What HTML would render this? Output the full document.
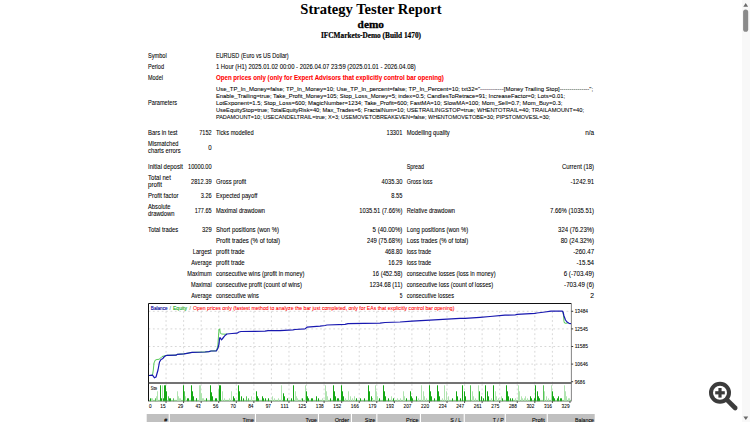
<!DOCTYPE html>
<html><head><meta charset="utf-8"><style>
html,body{margin:0;padding:0;background:#fff;overflow:hidden;width:750px;height:422px}
svg{display:block;position:absolute;left:0;top:0}
text{white-space:pre}
</style></head><body>
<svg width="750" height="422" viewBox="0 0 750 422">
<line x1="148.5" y1="311.3" x2="571.4" y2="311.3" stroke="#cdcdcd" stroke-width="0.8" stroke-dasharray="1.8 2.6"/>
<line x1="148.5" y1="328.9" x2="571.4" y2="328.9" stroke="#cdcdcd" stroke-width="0.8" stroke-dasharray="1.8 2.6"/>
<line x1="148.5" y1="346.5" x2="571.4" y2="346.5" stroke="#cdcdcd" stroke-width="0.8" stroke-dasharray="1.8 2.6"/>
<line x1="148.5" y1="364.1" x2="571.4" y2="364.1" stroke="#cdcdcd" stroke-width="0.8" stroke-dasharray="1.8 2.6"/>
<line x1="166.06" y1="311.3" x2="166.06" y2="383.1" stroke="#cdcdcd" stroke-width="0.8" stroke-dasharray="1.8 2.6"/>
<line x1="166.06" y1="384.1" x2="166.06" y2="401.3" stroke="#cdcdcd" stroke-width="0.8" stroke-dasharray="1.8 2.6"/>
<line x1="183.62" y1="311.3" x2="183.62" y2="383.1" stroke="#cdcdcd" stroke-width="0.8" stroke-dasharray="1.8 2.6"/>
<line x1="183.62" y1="384.1" x2="183.62" y2="401.3" stroke="#cdcdcd" stroke-width="0.8" stroke-dasharray="1.8 2.6"/>
<line x1="201.18" y1="311.3" x2="201.18" y2="383.1" stroke="#cdcdcd" stroke-width="0.8" stroke-dasharray="1.8 2.6"/>
<line x1="201.18" y1="384.1" x2="201.18" y2="401.3" stroke="#cdcdcd" stroke-width="0.8" stroke-dasharray="1.8 2.6"/>
<line x1="218.74" y1="311.3" x2="218.74" y2="383.1" stroke="#cdcdcd" stroke-width="0.8" stroke-dasharray="1.8 2.6"/>
<line x1="218.74" y1="384.1" x2="218.74" y2="401.3" stroke="#cdcdcd" stroke-width="0.8" stroke-dasharray="1.8 2.6"/>
<line x1="236.30" y1="311.3" x2="236.30" y2="383.1" stroke="#cdcdcd" stroke-width="0.8" stroke-dasharray="1.8 2.6"/>
<line x1="236.30" y1="384.1" x2="236.30" y2="401.3" stroke="#cdcdcd" stroke-width="0.8" stroke-dasharray="1.8 2.6"/>
<line x1="253.86" y1="311.3" x2="253.86" y2="383.1" stroke="#cdcdcd" stroke-width="0.8" stroke-dasharray="1.8 2.6"/>
<line x1="253.86" y1="384.1" x2="253.86" y2="401.3" stroke="#cdcdcd" stroke-width="0.8" stroke-dasharray="1.8 2.6"/>
<line x1="271.42" y1="311.3" x2="271.42" y2="383.1" stroke="#cdcdcd" stroke-width="0.8" stroke-dasharray="1.8 2.6"/>
<line x1="271.42" y1="384.1" x2="271.42" y2="401.3" stroke="#cdcdcd" stroke-width="0.8" stroke-dasharray="1.8 2.6"/>
<line x1="288.98" y1="311.3" x2="288.98" y2="383.1" stroke="#cdcdcd" stroke-width="0.8" stroke-dasharray="1.8 2.6"/>
<line x1="288.98" y1="384.1" x2="288.98" y2="401.3" stroke="#cdcdcd" stroke-width="0.8" stroke-dasharray="1.8 2.6"/>
<line x1="306.54" y1="311.3" x2="306.54" y2="383.1" stroke="#cdcdcd" stroke-width="0.8" stroke-dasharray="1.8 2.6"/>
<line x1="306.54" y1="384.1" x2="306.54" y2="401.3" stroke="#cdcdcd" stroke-width="0.8" stroke-dasharray="1.8 2.6"/>
<line x1="324.10" y1="311.3" x2="324.10" y2="383.1" stroke="#cdcdcd" stroke-width="0.8" stroke-dasharray="1.8 2.6"/>
<line x1="324.10" y1="384.1" x2="324.10" y2="401.3" stroke="#cdcdcd" stroke-width="0.8" stroke-dasharray="1.8 2.6"/>
<line x1="341.66" y1="311.3" x2="341.66" y2="383.1" stroke="#cdcdcd" stroke-width="0.8" stroke-dasharray="1.8 2.6"/>
<line x1="341.66" y1="384.1" x2="341.66" y2="401.3" stroke="#cdcdcd" stroke-width="0.8" stroke-dasharray="1.8 2.6"/>
<line x1="359.22" y1="311.3" x2="359.22" y2="383.1" stroke="#cdcdcd" stroke-width="0.8" stroke-dasharray="1.8 2.6"/>
<line x1="359.22" y1="384.1" x2="359.22" y2="401.3" stroke="#cdcdcd" stroke-width="0.8" stroke-dasharray="1.8 2.6"/>
<line x1="376.78" y1="311.3" x2="376.78" y2="383.1" stroke="#cdcdcd" stroke-width="0.8" stroke-dasharray="1.8 2.6"/>
<line x1="376.78" y1="384.1" x2="376.78" y2="401.3" stroke="#cdcdcd" stroke-width="0.8" stroke-dasharray="1.8 2.6"/>
<line x1="394.34" y1="311.3" x2="394.34" y2="383.1" stroke="#cdcdcd" stroke-width="0.8" stroke-dasharray="1.8 2.6"/>
<line x1="394.34" y1="384.1" x2="394.34" y2="401.3" stroke="#cdcdcd" stroke-width="0.8" stroke-dasharray="1.8 2.6"/>
<line x1="411.90" y1="311.3" x2="411.90" y2="383.1" stroke="#cdcdcd" stroke-width="0.8" stroke-dasharray="1.8 2.6"/>
<line x1="411.90" y1="384.1" x2="411.90" y2="401.3" stroke="#cdcdcd" stroke-width="0.8" stroke-dasharray="1.8 2.6"/>
<line x1="429.46" y1="311.3" x2="429.46" y2="383.1" stroke="#cdcdcd" stroke-width="0.8" stroke-dasharray="1.8 2.6"/>
<line x1="429.46" y1="384.1" x2="429.46" y2="401.3" stroke="#cdcdcd" stroke-width="0.8" stroke-dasharray="1.8 2.6"/>
<line x1="447.02" y1="311.3" x2="447.02" y2="383.1" stroke="#cdcdcd" stroke-width="0.8" stroke-dasharray="1.8 2.6"/>
<line x1="447.02" y1="384.1" x2="447.02" y2="401.3" stroke="#cdcdcd" stroke-width="0.8" stroke-dasharray="1.8 2.6"/>
<line x1="464.58" y1="311.3" x2="464.58" y2="383.1" stroke="#cdcdcd" stroke-width="0.8" stroke-dasharray="1.8 2.6"/>
<line x1="464.58" y1="384.1" x2="464.58" y2="401.3" stroke="#cdcdcd" stroke-width="0.8" stroke-dasharray="1.8 2.6"/>
<line x1="482.14" y1="311.3" x2="482.14" y2="383.1" stroke="#cdcdcd" stroke-width="0.8" stroke-dasharray="1.8 2.6"/>
<line x1="482.14" y1="384.1" x2="482.14" y2="401.3" stroke="#cdcdcd" stroke-width="0.8" stroke-dasharray="1.8 2.6"/>
<line x1="499.70" y1="311.3" x2="499.70" y2="383.1" stroke="#cdcdcd" stroke-width="0.8" stroke-dasharray="1.8 2.6"/>
<line x1="499.70" y1="384.1" x2="499.70" y2="401.3" stroke="#cdcdcd" stroke-width="0.8" stroke-dasharray="1.8 2.6"/>
<line x1="517.26" y1="311.3" x2="517.26" y2="383.1" stroke="#cdcdcd" stroke-width="0.8" stroke-dasharray="1.8 2.6"/>
<line x1="517.26" y1="384.1" x2="517.26" y2="401.3" stroke="#cdcdcd" stroke-width="0.8" stroke-dasharray="1.8 2.6"/>
<line x1="534.82" y1="311.3" x2="534.82" y2="383.1" stroke="#cdcdcd" stroke-width="0.8" stroke-dasharray="1.8 2.6"/>
<line x1="534.82" y1="384.1" x2="534.82" y2="401.3" stroke="#cdcdcd" stroke-width="0.8" stroke-dasharray="1.8 2.6"/>
<line x1="552.38" y1="311.3" x2="552.38" y2="383.1" stroke="#cdcdcd" stroke-width="0.8" stroke-dasharray="1.8 2.6"/>
<line x1="552.38" y1="384.1" x2="552.38" y2="401.3" stroke="#cdcdcd" stroke-width="0.8" stroke-dasharray="1.8 2.6"/>
<rect x="149" y="399.90" width="422" height="1.4" fill="#8fd68f"/>
<rect x="150" y="398.30" width="1" height="3.0" fill="#13a813"/>
<rect x="151" y="398.30" width="1" height="3.0" fill="#b0e4b0"/>
<rect x="152" y="398.30" width="1" height="3.0" fill="#b0e4b0"/>
<rect x="155" y="398.30" width="1" height="3.0" fill="#55c455"/>
<rect x="156" y="396.30" width="1" height="5.0" fill="#b0e4b0"/>
<rect x="157" y="391.30" width="1" height="10.0" fill="#b0e4b0"/>
<rect x="160" y="385.30" width="1" height="16.0" fill="#13a813"/>
<rect x="161" y="398.30" width="1" height="3.0" fill="#13a813"/>
<rect x="162" y="385.30" width="1" height="16.0" fill="#b0e4b0"/>
<rect x="163" y="398.30" width="1" height="3.0" fill="#13a813"/>
<rect x="164" y="385.30" width="1" height="16.0" fill="#13a813"/>
<rect x="165" y="385.30" width="1" height="16.0" fill="#13a813"/>
<rect x="166" y="391.30" width="1" height="10.0" fill="#13a813"/>
<rect x="168" y="396.30" width="1" height="5.0" fill="#55c455"/>
<rect x="169" y="398.30" width="1" height="3.0" fill="#13a813"/>
<rect x="170" y="398.30" width="1" height="3.0" fill="#13a813"/>
<rect x="173" y="398.30" width="1" height="3.0" fill="#55c455"/>
<rect x="177" y="391.30" width="1" height="10.0" fill="#b0e4b0"/>
<rect x="178" y="396.30" width="1" height="5.0" fill="#b0e4b0"/>
<rect x="179" y="398.30" width="1" height="3.0" fill="#b0e4b0"/>
<rect x="180" y="398.30" width="1" height="3.0" fill="#b0e4b0"/>
<rect x="183" y="385.30" width="1" height="16.0" fill="#13a813"/>
<rect x="184" y="391.30" width="1" height="10.0" fill="#55c455"/>
<rect x="185" y="396.30" width="1" height="5.0" fill="#b0e4b0"/>
<rect x="187" y="398.30" width="1" height="3.0" fill="#13a813"/>
<rect x="188" y="398.30" width="1" height="3.0" fill="#13a813"/>
<rect x="191" y="385.30" width="1" height="16.0" fill="#13a813"/>
<rect x="192" y="391.30" width="1" height="10.0" fill="#13a813"/>
<rect x="193" y="396.30" width="1" height="5.0" fill="#13a813"/>
<rect x="196" y="398.30" width="1" height="3.0" fill="#55c455"/>
<rect x="196" y="398.30" width="1" height="3.0" fill="#13a813"/>
<rect x="199" y="385.30" width="1" height="16.0" fill="#b0e4b0"/>
<rect x="200" y="385.30" width="1" height="16.0" fill="#b0e4b0"/>
<rect x="201" y="393.30" width="1" height="8.0" fill="#b0e4b0"/>
<rect x="202" y="398.30" width="1" height="3.0" fill="#b0e4b0"/>
<rect x="203" y="398.30" width="1" height="3.0" fill="#b0e4b0"/>
<rect x="206" y="398.30" width="1" height="3.0" fill="#13a813"/>
<rect x="210" y="385.30" width="1" height="16.0" fill="#13a813"/>
<rect x="211" y="392.30" width="1" height="9.0" fill="#13a813"/>
<rect x="212" y="396.30" width="1" height="5.0" fill="#13a813"/>
<rect x="215" y="398.30" width="1" height="3.0" fill="#13a813"/>
<rect x="216" y="398.30" width="1" height="3.0" fill="#13a813"/>
<rect x="218" y="389.30" width="1" height="12.0" fill="#b0e4b0"/>
<rect x="219" y="385.30" width="1" height="16.0" fill="#13a813"/>
<rect x="220" y="385.30" width="1" height="16.0" fill="#13a813"/>
<rect x="222" y="391.30" width="1" height="10.0" fill="#b0e4b0"/>
<rect x="224" y="398.30" width="1" height="3.0" fill="#b0e4b0"/>
<rect x="229" y="398.30" width="1" height="3.0" fill="#b0e4b0"/>
<rect x="231" y="391.30" width="1" height="10.0" fill="#b0e4b0"/>
<rect x="233" y="396.30" width="1" height="5.0" fill="#13a813"/>
<rect x="234" y="398.30" width="1" height="3.0" fill="#13a813"/>
<rect x="238" y="385.30" width="1" height="16.0" fill="#13a813"/>
<rect x="239" y="391.30" width="1" height="10.0" fill="#13a813"/>
<rect x="241" y="396.30" width="1" height="5.0" fill="#13a813"/>
<rect x="243" y="398.30" width="1" height="3.0" fill="#13a813"/>
<rect x="246" y="396.30" width="1" height="5.0" fill="#55c455"/>
<rect x="248" y="398.30" width="1" height="3.0" fill="#55c455"/>
<rect x="251" y="396.30" width="1" height="5.0" fill="#b0e4b0"/>
<rect x="256" y="391.30" width="1" height="10.0" fill="#13a813"/>
<rect x="257" y="396.30" width="1" height="5.0" fill="#13a813"/>
<rect x="258" y="398.30" width="1" height="3.0" fill="#13a813"/>
<rect x="262" y="396.30" width="1" height="5.0" fill="#13a813"/>
<rect x="263" y="398.30" width="1" height="3.0" fill="#13a813"/>
<rect x="265" y="398.30" width="1" height="3.0" fill="#13a813"/>
<rect x="268" y="398.30" width="1" height="3.0" fill="#13a813"/>
<rect x="272" y="396.30" width="1" height="5.0" fill="#b0e4b0"/>
<rect x="274" y="398.30" width="1" height="3.0" fill="#b0e4b0"/>
<rect x="278" y="398.30" width="1" height="3.0" fill="#b0e4b0"/>
<rect x="281" y="385.30" width="1" height="16.0" fill="#b0e4b0"/>
<rect x="283" y="393.30" width="1" height="8.0" fill="#13a813"/>
<rect x="284" y="396.30" width="1" height="5.0" fill="#13a813"/>
<rect x="287" y="398.30" width="1" height="3.0" fill="#13a813"/>
<rect x="291" y="398.30" width="1" height="3.0" fill="#13a813"/>
<rect x="293" y="385.30" width="1" height="16.0" fill="#13a813"/>
<rect x="295" y="391.30" width="1" height="10.0" fill="#b0e4b0"/>
<rect x="296" y="396.30" width="1" height="5.0" fill="#b0e4b0"/>
<rect x="297" y="398.30" width="1" height="3.0" fill="#b0e4b0"/>
<rect x="301" y="398.30" width="1" height="3.0" fill="#b0e4b0"/>
<rect x="302" y="398.30" width="1" height="3.0" fill="#13a813"/>
<rect x="305" y="385.30" width="1" height="16.0" fill="#b0e4b0"/>
<rect x="306" y="391.30" width="1" height="10.0" fill="#13a813"/>
<rect x="307" y="396.30" width="1" height="5.0" fill="#13a813"/>
<rect x="308" y="398.30" width="1" height="3.0" fill="#13a813"/>
<rect x="311" y="398.30" width="1" height="3.0" fill="#13a813"/>
<rect x="312" y="398.30" width="1" height="3.0" fill="#13a813"/>
<rect x="316" y="396.30" width="1" height="5.0" fill="#13a813"/>
<rect x="318" y="398.30" width="1" height="3.0" fill="#13a813"/>
<rect x="322" y="398.30" width="1" height="3.0" fill="#b0e4b0"/>
<rect x="325" y="385.30" width="1" height="16.0" fill="#b0e4b0"/>
<rect x="326" y="391.30" width="1" height="10.0" fill="#b0e4b0"/>
<rect x="327" y="396.30" width="1" height="5.0" fill="#b0e4b0"/>
<rect x="330" y="398.30" width="1" height="3.0" fill="#13a813"/>
<rect x="333" y="385.30" width="1" height="16.0" fill="#13a813"/>
<rect x="334" y="391.30" width="1" height="10.0" fill="#13a813"/>
<rect x="335" y="396.30" width="1" height="5.0" fill="#13a813"/>
<rect x="337" y="398.30" width="1" height="3.0" fill="#13a813"/>
<rect x="338" y="398.30" width="1" height="3.0" fill="#13a813"/>
<rect x="341" y="385.30" width="1" height="16.0" fill="#13a813"/>
<rect x="342" y="391.30" width="1" height="10.0" fill="#13a813"/>
<rect x="343" y="396.30" width="1" height="5.0" fill="#13a813"/>
<rect x="345" y="398.30" width="1" height="3.0" fill="#b0e4b0"/>
<rect x="348" y="391.30" width="1" height="10.0" fill="#b0e4b0"/>
<rect x="350" y="396.30" width="1" height="5.0" fill="#b0e4b0"/>
<rect x="352" y="398.30" width="1" height="3.0" fill="#b0e4b0"/>
<rect x="354" y="396.30" width="1" height="5.0" fill="#b0e4b0"/>
<rect x="356" y="398.30" width="1" height="3.0" fill="#13a813"/>
<rect x="360" y="398.30" width="1" height="3.0" fill="#13a813"/>
<rect x="364" y="398.30" width="1" height="3.0" fill="#13a813"/>
<rect x="368" y="385.30" width="1" height="16.0" fill="#13a813"/>
<rect x="369" y="391.30" width="1" height="10.0" fill="#13a813"/>
<rect x="371" y="396.30" width="1" height="5.0" fill="#13a813"/>
<rect x="372" y="398.30" width="1" height="3.0" fill="#13a813"/>
<rect x="372" y="398.30" width="1" height="3.0" fill="#b0e4b0"/>
<rect x="375" y="385.30" width="1" height="16.0" fill="#b0e4b0"/>
<rect x="376" y="391.30" width="1" height="10.0" fill="#b0e4b0"/>
<rect x="377" y="396.30" width="1" height="5.0" fill="#b0e4b0"/>
<rect x="379" y="398.30" width="1" height="3.0" fill="#13a813"/>
<rect x="383" y="385.30" width="1" height="16.0" fill="#13a813"/>
<rect x="384" y="391.30" width="1" height="10.0" fill="#13a813"/>
<rect x="385" y="396.30" width="1" height="5.0" fill="#13a813"/>
<rect x="388" y="398.30" width="1" height="3.0" fill="#13a813"/>
<rect x="391" y="396.30" width="1" height="5.0" fill="#b0e4b0"/>
<rect x="393" y="398.30" width="1" height="3.0" fill="#13a813"/>
<rect x="397" y="398.30" width="1" height="3.0" fill="#b0e4b0"/>
<rect x="400" y="398.30" width="1" height="3.0" fill="#b0e4b0"/>
<rect x="403" y="391.30" width="1" height="10.0" fill="#b0e4b0"/>
<rect x="404" y="396.30" width="1" height="5.0" fill="#b0e4b0"/>
<rect x="406" y="398.30" width="1" height="3.0" fill="#13a813"/>
<rect x="410" y="391.30" width="1" height="10.0" fill="#13a813"/>
<rect x="411" y="396.30" width="1" height="5.0" fill="#13a813"/>
<rect x="412" y="398.30" width="1" height="3.0" fill="#13a813"/>
<rect x="416" y="396.30" width="1" height="5.0" fill="#13a813"/>
<rect x="418" y="398.30" width="1" height="3.0" fill="#b0e4b0"/>
<rect x="421" y="385.30" width="1" height="16.0" fill="#b0e4b0"/>
<rect x="423" y="391.30" width="1" height="10.0" fill="#b0e4b0"/>
<rect x="424" y="396.30" width="1" height="5.0" fill="#b0e4b0"/>
<rect x="426" y="398.30" width="1" height="3.0" fill="#b0e4b0"/>
<rect x="429" y="385.30" width="1" height="16.0" fill="#13a813"/>
<rect x="430" y="391.30" width="1" height="10.0" fill="#13a813"/>
<rect x="431" y="396.30" width="1" height="5.0" fill="#13a813"/>
<rect x="434" y="398.30" width="1" height="3.0" fill="#13a813"/>
<rect x="437" y="385.30" width="1" height="16.0" fill="#13a813"/>
<rect x="438" y="391.30" width="1" height="10.0" fill="#13a813"/>
<rect x="439" y="396.30" width="1" height="5.0" fill="#13a813"/>
<rect x="442" y="398.30" width="1" height="3.0" fill="#b0e4b0"/>
<rect x="444" y="385.30" width="1" height="16.0" fill="#b0e4b0"/>
<rect x="446" y="391.30" width="1" height="10.0" fill="#b0e4b0"/>
<rect x="448" y="396.30" width="1" height="5.0" fill="#b0e4b0"/>
<rect x="452" y="398.30" width="1" height="3.0" fill="#13a813"/>
<rect x="456" y="391.30" width="1" height="10.0" fill="#13a813"/>
<rect x="457" y="396.30" width="1" height="5.0" fill="#13a813"/>
<rect x="460" y="398.30" width="1" height="3.0" fill="#13a813"/>
<rect x="462" y="385.30" width="1" height="16.0" fill="#13a813"/>
<rect x="464" y="391.30" width="1" height="10.0" fill="#13a813"/>
<rect x="465" y="396.30" width="1" height="5.0" fill="#13a813"/>
<rect x="470" y="385.30" width="1" height="16.0" fill="#55c455"/>
<rect x="472" y="391.30" width="1" height="10.0" fill="#b0e4b0"/>
<rect x="473" y="396.30" width="1" height="5.0" fill="#b0e4b0"/>
<rect x="475" y="398.30" width="1" height="3.0" fill="#b0e4b0"/>
<rect x="478" y="385.30" width="1" height="16.0" fill="#b0e4b0"/>
<rect x="479" y="391.30" width="1" height="10.0" fill="#13a813"/>
<rect x="481" y="396.30" width="1" height="5.0" fill="#13a813"/>
<rect x="483" y="398.30" width="1" height="3.0" fill="#13a813"/>
<rect x="485" y="385.30" width="1" height="16.0" fill="#13a813"/>
<rect x="487" y="391.30" width="1" height="10.0" fill="#13a813"/>
<rect x="488" y="396.30" width="1" height="5.0" fill="#13a813"/>
<rect x="491" y="398.30" width="1" height="3.0" fill="#b0e4b0"/>
<rect x="493" y="385.30" width="1" height="16.0" fill="#13a813"/>
<rect x="495" y="391.30" width="1" height="10.0" fill="#b0e4b0"/>
<rect x="496" y="396.30" width="1" height="5.0" fill="#b0e4b0"/>
<rect x="498" y="398.30" width="1" height="3.0" fill="#b0e4b0"/>
<rect x="501" y="396.30" width="1" height="5.0" fill="#b0e4b0"/>
<rect x="502" y="398.30" width="1" height="3.0" fill="#13a813"/>
<rect x="506" y="385.30" width="1" height="16.0" fill="#13a813"/>
<rect x="507" y="391.30" width="1" height="10.0" fill="#13a813"/>
<rect x="508" y="396.30" width="1" height="5.0" fill="#13a813"/>
<rect x="510" y="398.30" width="1" height="3.0" fill="#13a813"/>
<rect x="512" y="398.30" width="1" height="3.0" fill="#13a813"/>
<rect x="515" y="398.30" width="1" height="3.0" fill="#b0e4b0"/>
<rect x="518" y="385.30" width="1" height="16.0" fill="#b0e4b0"/>
<rect x="519" y="391.30" width="1" height="10.0" fill="#b0e4b0"/>
<rect x="521" y="396.30" width="1" height="5.0" fill="#b0e4b0"/>
<rect x="522" y="398.30" width="1" height="3.0" fill="#b0e4b0"/>
<rect x="524" y="398.30" width="1" height="3.0" fill="#b0e4b0"/>
<rect x="525" y="396.30" width="1" height="5.0" fill="#b0e4b0"/>
<rect x="527" y="398.30" width="1" height="3.0" fill="#b0e4b0"/>
<rect x="530" y="396.30" width="1" height="5.0" fill="#13a813"/>
<rect x="531" y="398.30" width="1" height="3.0" fill="#13a813"/>
<rect x="534" y="398.30" width="1" height="3.0" fill="#13a813"/>
<rect x="535" y="385.30" width="1" height="16.0" fill="#13a813"/>
<rect x="537" y="391.30" width="1" height="10.0" fill="#13a813"/>
<rect x="538" y="396.30" width="1" height="5.0" fill="#13a813"/>
<rect x="539" y="398.30" width="1" height="3.0" fill="#13a813"/>
<rect x="543" y="385.30" width="1" height="16.0" fill="#55c455"/>
<rect x="544" y="391.30" width="1" height="10.0" fill="#b0e4b0"/>
<rect x="546" y="396.30" width="1" height="5.0" fill="#b0e4b0"/>
<rect x="548" y="398.30" width="1" height="3.0" fill="#b0e4b0"/>
<rect x="551" y="385.30" width="1" height="16.0" fill="#b0e4b0"/>
<rect x="552" y="391.30" width="1" height="10.0" fill="#13a813"/>
<rect x="553" y="396.30" width="1" height="5.0" fill="#13a813"/>
<rect x="554" y="398.30" width="1" height="3.0" fill="#13a813"/>
<rect x="557" y="398.30" width="1" height="3.0" fill="#13a813"/>
<rect x="558" y="396.30" width="1" height="5.0" fill="#13a813"/>
<rect x="560" y="398.30" width="1" height="3.0" fill="#13a813"/>
<rect x="561" y="398.30" width="1" height="3.0" fill="#13a813"/>
<rect x="564" y="385.30" width="1" height="16.0" fill="#b0e4b0"/>
<rect x="565" y="391.30" width="1" height="10.0" fill="#b0e4b0"/>
<rect x="566" y="396.30" width="1" height="5.0" fill="#b0e4b0"/>
<rect x="568" y="398.30" width="1" height="3.0" fill="#b0e4b0"/>
<rect x="569" y="398.30" width="1" height="3.0" fill="#b0e4b0"/>
<line x1="148.5" y1="303.5" x2="571.4" y2="303.5" stroke="#111" stroke-width="1.0"/>
<line x1="148.5" y1="303.5" x2="148.5" y2="401.3" stroke="#111" stroke-width="1.0"/>
<line x1="571.4" y1="303.5" x2="571.4" y2="401.3" stroke="#777" stroke-width="0.9"/>
<line x1="148.5" y1="383.1" x2="571.4" y2="383.1" stroke="#444" stroke-width="1.5"/>
<line x1="148.5" y1="401.3" x2="571.4" y2="401.3" stroke="#999" stroke-width="0.8"/>
<line x1="571.4" y1="311.3" x2="573.1999999999999" y2="311.3" stroke="#222" stroke-width="0.9"/>
<line x1="571.4" y1="328.9" x2="573.1999999999999" y2="328.9" stroke="#222" stroke-width="0.9"/>
<line x1="571.4" y1="346.5" x2="573.1999999999999" y2="346.5" stroke="#222" stroke-width="0.9"/>
<line x1="571.4" y1="364.1" x2="573.1999999999999" y2="364.1" stroke="#222" stroke-width="0.9"/>
<line x1="571.4" y1="381.7" x2="573.1999999999999" y2="381.7" stroke="#222" stroke-width="0.9"/>
<line x1="166.06" y1="401.3" x2="166.06" y2="402.90000000000003" stroke="#222" stroke-width="0.9"/>
<line x1="183.62" y1="401.3" x2="183.62" y2="402.90000000000003" stroke="#222" stroke-width="0.9"/>
<line x1="201.18" y1="401.3" x2="201.18" y2="402.90000000000003" stroke="#222" stroke-width="0.9"/>
<line x1="218.74" y1="401.3" x2="218.74" y2="402.90000000000003" stroke="#222" stroke-width="0.9"/>
<line x1="236.30" y1="401.3" x2="236.30" y2="402.90000000000003" stroke="#222" stroke-width="0.9"/>
<line x1="253.86" y1="401.3" x2="253.86" y2="402.90000000000003" stroke="#222" stroke-width="0.9"/>
<line x1="271.42" y1="401.3" x2="271.42" y2="402.90000000000003" stroke="#222" stroke-width="0.9"/>
<line x1="288.98" y1="401.3" x2="288.98" y2="402.90000000000003" stroke="#222" stroke-width="0.9"/>
<line x1="306.54" y1="401.3" x2="306.54" y2="402.90000000000003" stroke="#222" stroke-width="0.9"/>
<line x1="324.10" y1="401.3" x2="324.10" y2="402.90000000000003" stroke="#222" stroke-width="0.9"/>
<line x1="341.66" y1="401.3" x2="341.66" y2="402.90000000000003" stroke="#222" stroke-width="0.9"/>
<line x1="359.22" y1="401.3" x2="359.22" y2="402.90000000000003" stroke="#222" stroke-width="0.9"/>
<line x1="376.78" y1="401.3" x2="376.78" y2="402.90000000000003" stroke="#222" stroke-width="0.9"/>
<line x1="394.34" y1="401.3" x2="394.34" y2="402.90000000000003" stroke="#222" stroke-width="0.9"/>
<line x1="411.90" y1="401.3" x2="411.90" y2="402.90000000000003" stroke="#222" stroke-width="0.9"/>
<line x1="429.46" y1="401.3" x2="429.46" y2="402.90000000000003" stroke="#222" stroke-width="0.9"/>
<line x1="447.02" y1="401.3" x2="447.02" y2="402.90000000000003" stroke="#222" stroke-width="0.9"/>
<line x1="464.58" y1="401.3" x2="464.58" y2="402.90000000000003" stroke="#222" stroke-width="0.9"/>
<line x1="482.14" y1="401.3" x2="482.14" y2="402.90000000000003" stroke="#222" stroke-width="0.9"/>
<line x1="499.70" y1="401.3" x2="499.70" y2="402.90000000000003" stroke="#222" stroke-width="0.9"/>
<line x1="517.26" y1="401.3" x2="517.26" y2="402.90000000000003" stroke="#222" stroke-width="0.9"/>
<line x1="534.82" y1="401.3" x2="534.82" y2="402.90000000000003" stroke="#222" stroke-width="0.9"/>
<line x1="552.38" y1="401.3" x2="552.38" y2="402.90000000000003" stroke="#222" stroke-width="0.9"/>
<line x1="569.94" y1="401.3" x2="569.94" y2="402.90000000000003" stroke="#222" stroke-width="0.9"/>
<path d="M149.0,375.5 L152.5,375.2 L153.3,370.0 L154.0,363.0 L155.3,360.0 L157.0,359.5 L159.0,359.3 L160.5,358.2 L162.0,356.5 L164.0,356.0 L165.5,355.8 L167.0,355.3 L176.0,355.2 L177.5,354.3 L184.0,353.9 L187.0,353.3 L192.0,352.4 L205.0,352.0 L209.0,351.6 L211.0,351.0 L216.5,350.8 L217.8,346.0 L218.5,336.0 L219.0,329.5 L219.7,328.8 L220.3,333.0 L221.3,334.0 L225.0,334.2 L227.0,334.0" fill="none" stroke="#22bb22" stroke-width="0.75" stroke-linejoin="round"/>
<path d="M562.0,311.0 L563.0,312.0 L563.6,316.0 L564.0,321.5 L564.5,323.0 L566.0,323.3 L568.0,322.8" fill="none" stroke="#22bb22" stroke-width="0.75" stroke-linejoin="round"/>
<path d="M149.0,375.5 L152.5,375.2 L154.5,377.8 L156.0,377.0 L158.0,370.0 L159.5,362.0 L161.0,359.5 L162.5,358.8 L164.0,357.0 L165.5,355.8 L167.0,355.3 L176.0,355.2 L177.5,354.3 L184.0,353.9 L187.0,353.3 L192.0,352.4 L205.0,352.0 L209.0,351.6 L211.0,351.0 L216.5,350.8 L218.0,348.0 L219.0,344.0 L219.5,339.0 L220.0,337.5 L221.5,339.8 L223.0,338.0 L225.0,335.5 L227.0,334.0 L232.0,333.5 L237.0,333.2 L239.0,332.0 L241.0,331.5 L265.0,331.2 L268.0,330.6 L280.0,330.6 L293.0,329.9 L295.0,329.5 L305.0,328.9 L307.0,327.2 L320.0,326.1 L325.0,325.5 L327.0,325.0 L345.0,324.4 L348.0,323.7 L380.0,323.1 L385.0,322.5 L400.0,322.0 L412.0,321.2 L430.0,320.1 L460.0,318.4 L465.0,318.3 L480.0,317.3 L490.0,316.5 L505.0,315.2 L515.0,315.0 L517.0,314.4 L535.0,313.3 L537.0,313.0 L545.0,312.0 L551.0,311.2 L562.0,311.0 L563.0,312.0 L564.0,316.0 L565.5,320.0 L567.0,322.0 L569.0,323.3 L571.0,323.6" fill="none" stroke="#1818b0" stroke-width="1.2" stroke-linejoin="round"/>
<text x="150.80" y="309.70" font-size="4.9" textLength="16.80" lengthAdjust="spacingAndGlyphs" fill="#000098" font-weight="normal" style="font-family:&quot;Liberation Sans&quot;"  stroke="#000098" stroke-width="0.12">Balance</text>
<text x="169.60" y="309.70" font-size="4.8" textLength="1.40" lengthAdjust="spacingAndGlyphs" fill="#4080a0" font-weight="normal" style="font-family:&quot;Liberation Sans&quot;"  stroke="#4080a0" stroke-width="0.07">/</text>
<text x="173.00" y="309.70" font-size="4.9" textLength="14.00" lengthAdjust="spacingAndGlyphs" fill="#10a810" font-weight="normal" style="font-family:&quot;Liberation Sans&quot;"  stroke="#10a810" stroke-width="0.1">Equity</text>
<text x="189.60" y="309.70" font-size="4.8" textLength="1.40" lengthAdjust="spacingAndGlyphs" fill="#808040" font-weight="normal" style="font-family:&quot;Liberation Sans&quot;"  stroke="#808040" stroke-width="0.07">/</text>
<text x="193.10" y="309.70" font-size="4.9" textLength="261.30" lengthAdjust="spacingAndGlyphs" fill="#ff0000" font-weight="normal" style="font-family:&quot;Liberation Sans&quot;"  stroke="#ff0000" stroke-width="0.07">Open prices only (fastest method to analyze the bar just completed, only for EAs that explicitly control bar opening)</text>
<text x="574.70" y="313.20" font-size="5.2" textLength="13.30" lengthAdjust="spacingAndGlyphs" fill="#000" font-weight="normal" style="font-family:&quot;Liberation Sans&quot;"  stroke="#000" stroke-width="0.07">13484</text>
<text x="574.70" y="330.80" font-size="5.2" textLength="13.30" lengthAdjust="spacingAndGlyphs" fill="#000" font-weight="normal" style="font-family:&quot;Liberation Sans&quot;"  stroke="#000" stroke-width="0.07">12545</text>
<text x="574.70" y="348.40" font-size="5.2" textLength="13.30" lengthAdjust="spacingAndGlyphs" fill="#000" font-weight="normal" style="font-family:&quot;Liberation Sans&quot;"  stroke="#000" stroke-width="0.07">11585</text>
<text x="574.70" y="366.00" font-size="5.2" textLength="13.30" lengthAdjust="spacingAndGlyphs" fill="#000" font-weight="normal" style="font-family:&quot;Liberation Sans&quot;"  stroke="#000" stroke-width="0.07">10646</text>
<text x="574.70" y="383.60" font-size="5.2" textLength="10.30" lengthAdjust="spacingAndGlyphs" fill="#000" font-weight="normal" style="font-family:&quot;Liberation Sans&quot;"  stroke="#000" stroke-width="0.07">9686</text>
<text x="149.00" y="407.80" font-size="5.2" textLength="2.60" lengthAdjust="spacingAndGlyphs" fill="#000" font-weight="normal" style="font-family:&quot;Liberation Sans&quot;"  stroke="#000" stroke-width="0.07">0</text>
<text x="160.36" y="407.80" font-size="5.2" textLength="5.30" lengthAdjust="spacingAndGlyphs" fill="#000" font-weight="normal" style="font-family:&quot;Liberation Sans&quot;"  stroke="#000" stroke-width="0.07">15</text>
<text x="177.92" y="407.80" font-size="5.2" textLength="5.30" lengthAdjust="spacingAndGlyphs" fill="#000" font-weight="normal" style="font-family:&quot;Liberation Sans&quot;"  stroke="#000" stroke-width="0.07">29</text>
<text x="195.48" y="407.80" font-size="5.2" textLength="5.30" lengthAdjust="spacingAndGlyphs" fill="#000" font-weight="normal" style="font-family:&quot;Liberation Sans&quot;"  stroke="#000" stroke-width="0.07">43</text>
<text x="213.04" y="407.80" font-size="5.2" textLength="5.30" lengthAdjust="spacingAndGlyphs" fill="#000" font-weight="normal" style="font-family:&quot;Liberation Sans&quot;"  stroke="#000" stroke-width="0.07">56</text>
<text x="230.60" y="407.80" font-size="5.2" textLength="5.30" lengthAdjust="spacingAndGlyphs" fill="#000" font-weight="normal" style="font-family:&quot;Liberation Sans&quot;"  stroke="#000" stroke-width="0.07">70</text>
<text x="248.16" y="407.80" font-size="5.2" textLength="5.30" lengthAdjust="spacingAndGlyphs" fill="#000" font-weight="normal" style="font-family:&quot;Liberation Sans&quot;"  stroke="#000" stroke-width="0.07">84</text>
<text x="265.72" y="407.80" font-size="5.2" textLength="5.30" lengthAdjust="spacingAndGlyphs" fill="#000" font-weight="normal" style="font-family:&quot;Liberation Sans&quot;"  stroke="#000" stroke-width="0.07">97</text>
<text x="280.63" y="407.80" font-size="5.2" textLength="7.95" lengthAdjust="spacingAndGlyphs" fill="#000" font-weight="normal" style="font-family:&quot;Liberation Sans&quot;"  stroke="#000" stroke-width="0.07">111</text>
<text x="298.19" y="407.80" font-size="5.2" textLength="7.95" lengthAdjust="spacingAndGlyphs" fill="#000" font-weight="normal" style="font-family:&quot;Liberation Sans&quot;"  stroke="#000" stroke-width="0.07">125</text>
<text x="315.75" y="407.80" font-size="5.2" textLength="7.95" lengthAdjust="spacingAndGlyphs" fill="#000" font-weight="normal" style="font-family:&quot;Liberation Sans&quot;"  stroke="#000" stroke-width="0.07">138</text>
<text x="333.31" y="407.80" font-size="5.2" textLength="7.95" lengthAdjust="spacingAndGlyphs" fill="#000" font-weight="normal" style="font-family:&quot;Liberation Sans&quot;"  stroke="#000" stroke-width="0.07">152</text>
<text x="350.87" y="407.80" font-size="5.2" textLength="7.95" lengthAdjust="spacingAndGlyphs" fill="#000" font-weight="normal" style="font-family:&quot;Liberation Sans&quot;"  stroke="#000" stroke-width="0.07">166</text>
<text x="368.43" y="407.80" font-size="5.2" textLength="7.95" lengthAdjust="spacingAndGlyphs" fill="#000" font-weight="normal" style="font-family:&quot;Liberation Sans&quot;"  stroke="#000" stroke-width="0.07">179</text>
<text x="385.99" y="407.80" font-size="5.2" textLength="7.95" lengthAdjust="spacingAndGlyphs" fill="#000" font-weight="normal" style="font-family:&quot;Liberation Sans&quot;"  stroke="#000" stroke-width="0.07">193</text>
<text x="403.55" y="407.80" font-size="5.2" textLength="7.95" lengthAdjust="spacingAndGlyphs" fill="#000" font-weight="normal" style="font-family:&quot;Liberation Sans&quot;"  stroke="#000" stroke-width="0.07">207</text>
<text x="421.11" y="407.80" font-size="5.2" textLength="7.95" lengthAdjust="spacingAndGlyphs" fill="#000" font-weight="normal" style="font-family:&quot;Liberation Sans&quot;"  stroke="#000" stroke-width="0.07">220</text>
<text x="438.67" y="407.80" font-size="5.2" textLength="7.95" lengthAdjust="spacingAndGlyphs" fill="#000" font-weight="normal" style="font-family:&quot;Liberation Sans&quot;"  stroke="#000" stroke-width="0.07">234</text>
<text x="456.23" y="407.80" font-size="5.2" textLength="7.95" lengthAdjust="spacingAndGlyphs" fill="#000" font-weight="normal" style="font-family:&quot;Liberation Sans&quot;"  stroke="#000" stroke-width="0.07">247</text>
<text x="473.79" y="407.80" font-size="5.2" textLength="7.95" lengthAdjust="spacingAndGlyphs" fill="#000" font-weight="normal" style="font-family:&quot;Liberation Sans&quot;"  stroke="#000" stroke-width="0.07">261</text>
<text x="491.35" y="407.80" font-size="5.2" textLength="7.95" lengthAdjust="spacingAndGlyphs" fill="#000" font-weight="normal" style="font-family:&quot;Liberation Sans&quot;"  stroke="#000" stroke-width="0.07">275</text>
<text x="508.91" y="407.80" font-size="5.2" textLength="7.95" lengthAdjust="spacingAndGlyphs" fill="#000" font-weight="normal" style="font-family:&quot;Liberation Sans&quot;"  stroke="#000" stroke-width="0.07">288</text>
<text x="526.47" y="407.80" font-size="5.2" textLength="7.95" lengthAdjust="spacingAndGlyphs" fill="#000" font-weight="normal" style="font-family:&quot;Liberation Sans&quot;"  stroke="#000" stroke-width="0.07">302</text>
<text x="544.03" y="407.80" font-size="5.2" textLength="7.95" lengthAdjust="spacingAndGlyphs" fill="#000" font-weight="normal" style="font-family:&quot;Liberation Sans&quot;"  stroke="#000" stroke-width="0.07">316</text>
<text x="561.59" y="407.80" font-size="5.2" textLength="7.95" lengthAdjust="spacingAndGlyphs" fill="#000" font-weight="normal" style="font-family:&quot;Liberation Sans&quot;"  stroke="#000" stroke-width="0.07">329</text>
<text x="150.80" y="389.90" font-size="4.6" textLength="6.40" lengthAdjust="spacingAndGlyphs" fill="#000" font-weight="normal" style="font-family:&quot;Liberation Sans&quot;"  stroke="#000" stroke-width="0.07">Size</text>
<rect x="146.7" y="414.0" width="448.00" height="10.0" fill="#c0c0c0"/>
<rect x="168.70" y="414.0" width="1.1" height="10.0" fill="#ffffff"/>
<rect x="254.90" y="414.0" width="1.1" height="10.0" fill="#ffffff"/>
<rect x="317.90" y="414.0" width="1.1" height="10.0" fill="#ffffff"/>
<rect x="350.90" y="414.0" width="1.1" height="10.0" fill="#ffffff"/>
<rect x="376.30" y="414.0" width="1.1" height="10.0" fill="#ffffff"/>
<rect x="419.90" y="414.0" width="1.1" height="10.0" fill="#ffffff"/>
<rect x="463.70" y="414.0" width="1.1" height="10.0" fill="#ffffff"/>
<rect x="504.70" y="414.0" width="1.1" height="10.0" fill="#ffffff"/>
<rect x="546.70" y="414.0" width="1.1" height="10.0" fill="#ffffff"/>
<text x="164.20" y="421.60" font-size="6.0" textLength="3.00" lengthAdjust="spacingAndGlyphs" fill="#000" font-weight="normal" style="font-family:&quot;Liberation Sans&quot;"  stroke="#000" stroke-width="0.07">#</text>
<text x="242.40" y="421.60" font-size="6.0" textLength="11.50" lengthAdjust="spacingAndGlyphs" fill="#000" font-weight="normal" style="font-family:&quot;Liberation Sans&quot;"  stroke="#000" stroke-width="0.07">Time</text>
<text x="305.40" y="421.60" font-size="6.0" textLength="11.50" lengthAdjust="spacingAndGlyphs" fill="#000" font-weight="normal" style="font-family:&quot;Liberation Sans&quot;"  stroke="#000" stroke-width="0.07">Type</text>
<text x="334.70" y="421.60" font-size="6.0" textLength="14.50" lengthAdjust="spacingAndGlyphs" fill="#000" font-weight="normal" style="font-family:&quot;Liberation Sans&quot;"  stroke="#000" stroke-width="0.07">Order</text>
<text x="364.80" y="421.60" font-size="6.0" textLength="10.50" lengthAdjust="spacingAndGlyphs" fill="#000" font-weight="normal" style="font-family:&quot;Liberation Sans&quot;"  stroke="#000" stroke-width="0.07">Size</text>
<text x="406.00" y="421.60" font-size="6.0" textLength="12.50" lengthAdjust="spacingAndGlyphs" fill="#000" font-weight="normal" style="font-family:&quot;Liberation Sans&quot;"  stroke="#000" stroke-width="0.07">Price</text>
<text x="450.20" y="421.60" font-size="6.0" textLength="11.00" lengthAdjust="spacingAndGlyphs" fill="#000" font-weight="normal" style="font-family:&quot;Liberation Sans&quot;"  stroke="#000" stroke-width="0.07">S / L</text>
<text x="492.80" y="421.60" font-size="6.0" textLength="11.00" lengthAdjust="spacingAndGlyphs" fill="#000" font-weight="normal" style="font-family:&quot;Liberation Sans&quot;"  stroke="#000" stroke-width="0.07">T / P</text>
<text x="531.90" y="421.60" font-size="6.0" textLength="13.00" lengthAdjust="spacingAndGlyphs" fill="#000" font-weight="normal" style="font-family:&quot;Liberation Sans&quot;"  stroke="#000" stroke-width="0.07">Profit</text>
<text x="575.00" y="421.60" font-size="6.0" textLength="19.00" lengthAdjust="spacingAndGlyphs" fill="#000" font-weight="normal" style="font-family:&quot;Liberation Sans&quot;"  stroke="#000" stroke-width="0.07">Balance</text>
<text x="300.30" y="13.65" font-size="14.6" textLength="141.20" lengthAdjust="spacingAndGlyphs" fill="#000" font-weight="bold" style="font-family:&quot;Liberation Serif&quot;" >Strategy Tester Report</text>
<text x="357.60" y="27.70" font-size="11.2" textLength="26.40" lengthAdjust="spacingAndGlyphs" fill="#000" font-weight="bold" style="font-family:&quot;Liberation Serif&quot;"  stroke="#000" stroke-width="0.3">demo</text>
<text x="321.00" y="37.90" font-size="7.5" textLength="100.00" lengthAdjust="spacingAndGlyphs" fill="#000" font-weight="bold" style="font-family:&quot;Liberation Serif&quot;"  stroke="#000" stroke-width="0.2">IFCMarkets-Demo (Build 1470)</text>
<text x="148.00" y="58.00" font-size="6.6" textLength="18.70" lengthAdjust="spacingAndGlyphs" fill="#000" font-weight="normal" style="font-family:&quot;Liberation Sans&quot;"  stroke="#000" stroke-width="0.07">Symbol</text>
<text x="215.90" y="58.00" font-size="6.6" textLength="72.80" lengthAdjust="spacingAndGlyphs" fill="#000" font-weight="normal" style="font-family:&quot;Liberation Sans&quot;"  stroke="#000" stroke-width="0.07">EURUSD (Euro vs US Dollar)</text>
<text x="148.00" y="69.00" font-size="6.6" textLength="16.00" lengthAdjust="spacingAndGlyphs" fill="#000" font-weight="normal" style="font-family:&quot;Liberation Sans&quot;"  stroke="#000" stroke-width="0.07">Period</text>
<text x="215.90" y="69.00" font-size="6.6" textLength="199.80" lengthAdjust="spacingAndGlyphs" fill="#000" font-weight="normal" style="font-family:&quot;Liberation Sans&quot;"  stroke="#000" stroke-width="0.07">1 Hour (H1) 2025.01.02 00:00 - 2026.04.07 23:59 (2025.01.01 - 2026.04.08)</text>
<text x="148.00" y="80.00" font-size="6.6" textLength="14.90" lengthAdjust="spacingAndGlyphs" fill="#000" font-weight="normal" style="font-family:&quot;Liberation Sans&quot;"  stroke="#000" stroke-width="0.07">Model</text>
<text x="215.90" y="80.00" font-size="6.6" textLength="227.90" lengthAdjust="spacingAndGlyphs" fill="#ff0000" font-weight="bold" style="font-family:&quot;Liberation Sans&quot;"  stroke="#ff0000" stroke-width="0.07">Open prices only (only for Expert Advisors that explicitly control bar opening)</text>
<text x="148.00" y="105.40" font-size="6.6" textLength="29.10" lengthAdjust="spacingAndGlyphs" fill="#000" font-weight="normal" style="font-family:&quot;Liberation Sans&quot;"  stroke="#000" stroke-width="0.07">Parameters</text>
<text x="215.90" y="91.20" font-size="6.2" textLength="377.20" lengthAdjust="spacingAndGlyphs" fill="#000" font-weight="normal" style="font-family:&quot;Liberation Sans&quot;"  stroke="#000" stroke-width="0.07">Use_TP_In_Money=false; TP_In_Money=10; Use_TP_In_percent=false; TP_In_Percent=10; txt32=&quot;------------[Money Trailing Stop]---------------&quot;;</text>
<text x="215.90" y="98.15" font-size="6.2" textLength="349.20" lengthAdjust="spacingAndGlyphs" fill="#000" font-weight="normal" style="font-family:&quot;Liberation Sans&quot;"  stroke="#000" stroke-width="0.07">Enable_Trailing=true; Take_Profit_Money=105; Stop_Loss_Money=5; index=0.5; CandlesToRetrace=91; IncreaseFactor=0; Lots=0.01;</text>
<text x="215.90" y="105.10" font-size="6.2" textLength="346.40" lengthAdjust="spacingAndGlyphs" fill="#000" font-weight="normal" style="font-family:&quot;Liberation Sans&quot;"  stroke="#000" stroke-width="0.07">LotExponent=1.5; Stop_Loss=600; MagicNumber=1234; Take_Profit=600; FastMA=10; SlowMA=100; Mom_Sell=0.7; Mom_Buy=0.3;</text>
<text x="215.90" y="112.05" font-size="6.2" textLength="368.20" lengthAdjust="spacingAndGlyphs" fill="#000" font-weight="normal" style="font-family:&quot;Liberation Sans&quot;"  stroke="#000" stroke-width="0.07">UseEquityStop=true; TotalEquityRisk=40; Max_Trades=6; FractalNum=10; USETRAILINGSTOP=true; WHENTOTRAIL=40; TRAILAMOUNT=40;</text>
<text x="215.90" y="119.00" font-size="6.2" textLength="334.20" lengthAdjust="spacingAndGlyphs" fill="#000" font-weight="normal" style="font-family:&quot;Liberation Sans&quot;"  stroke="#000" stroke-width="0.07">PADAMOUNT=10; USECANDELTRAIL=true; X=3; USEMOVETOBREAKEVEN=false; WHENTOMOVETOBE=30; PIPSTOMOVESL=30;</text>
<text x="148.00" y="134.80" font-size="6.6" textLength="29.50" lengthAdjust="spacingAndGlyphs" fill="#000" font-weight="normal" style="font-family:&quot;Liberation Sans&quot;"  stroke="#000" stroke-width="0.07">Bars in test</text>
<text x="199.20" y="134.80" font-size="6.6" textLength="12.50" lengthAdjust="spacingAndGlyphs" fill="#000" font-weight="normal" style="font-family:&quot;Liberation Sans&quot;"  stroke="#000" stroke-width="0.07">7152</text>
<text x="216.00" y="134.80" font-size="6.6" textLength="37.70" lengthAdjust="spacingAndGlyphs" fill="#000" font-weight="normal" style="font-family:&quot;Liberation Sans&quot;"  stroke="#000" stroke-width="0.07">Ticks modelled</text>
<text x="386.50" y="134.80" font-size="6.6" textLength="15.90" lengthAdjust="spacingAndGlyphs" fill="#000" font-weight="normal" style="font-family:&quot;Liberation Sans&quot;"  stroke="#000" stroke-width="0.07">13301</text>
<text x="406.70" y="134.80" font-size="6.6" textLength="43.00" lengthAdjust="spacingAndGlyphs" fill="#000" font-weight="normal" style="font-family:&quot;Liberation Sans&quot;"  stroke="#000" stroke-width="0.07">Modelling quality</text>
<text x="585.20" y="134.80" font-size="6.6" textLength="8.90" lengthAdjust="spacingAndGlyphs" fill="#000" font-weight="normal" style="font-family:&quot;Liberation Sans&quot;"  stroke="#000" stroke-width="0.07">n/a</text>
<text x="148.00" y="145.50" font-size="6.6" textLength="30.40" lengthAdjust="spacingAndGlyphs" fill="#000" font-weight="normal" style="font-family:&quot;Liberation Sans&quot;"  stroke="#000" stroke-width="0.07">Mismatched</text>
<text x="148.00" y="152.90" font-size="6.6" textLength="32.70" lengthAdjust="spacingAndGlyphs" fill="#000" font-weight="normal" style="font-family:&quot;Liberation Sans&quot;"  stroke="#000" stroke-width="0.07">charts errors</text>
<text x="208.30" y="150.00" font-size="6.6" textLength="3.40" lengthAdjust="spacingAndGlyphs" fill="#000" font-weight="normal" style="font-family:&quot;Liberation Sans&quot;"  stroke="#000" stroke-width="0.07">0</text>
<text x="148.00" y="168.70" font-size="6.6" textLength="34.90" lengthAdjust="spacingAndGlyphs" fill="#000" font-weight="normal" style="font-family:&quot;Liberation Sans&quot;"  stroke="#000" stroke-width="0.07">Initial deposit</text>
<text x="188.00" y="168.70" font-size="6.6" textLength="23.70" lengthAdjust="spacingAndGlyphs" fill="#000" font-weight="normal" style="font-family:&quot;Liberation Sans&quot;"  stroke="#000" stroke-width="0.07">10000.00</text>
<text x="406.70" y="168.70" font-size="6.6" textLength="17.40" lengthAdjust="spacingAndGlyphs" fill="#000" font-weight="normal" style="font-family:&quot;Liberation Sans&quot;"  stroke="#000" stroke-width="0.07">Spread</text>
<text x="562.00" y="168.70" font-size="6.6" textLength="32.10" lengthAdjust="spacingAndGlyphs" fill="#000" font-weight="normal" style="font-family:&quot;Liberation Sans&quot;"  stroke="#000" stroke-width="0.07">Current (18)</text>
<text x="148.00" y="179.90" font-size="6.6" textLength="22.90" lengthAdjust="spacingAndGlyphs" fill="#000" font-weight="normal" style="font-family:&quot;Liberation Sans&quot;"  stroke="#000" stroke-width="0.07">Total net</text>
<text x="148.00" y="186.80" font-size="6.6" textLength="13.90" lengthAdjust="spacingAndGlyphs" fill="#000" font-weight="normal" style="font-family:&quot;Liberation Sans&quot;"  stroke="#000" stroke-width="0.07">profit</text>
<text x="191.00" y="183.50" font-size="6.6" textLength="20.70" lengthAdjust="spacingAndGlyphs" fill="#000" font-weight="normal" style="font-family:&quot;Liberation Sans&quot;"  stroke="#000" stroke-width="0.07">2812.39</text>
<text x="216.00" y="183.50" font-size="6.6" textLength="30.20" lengthAdjust="spacingAndGlyphs" fill="#000" font-weight="normal" style="font-family:&quot;Liberation Sans&quot;"  stroke="#000" stroke-width="0.07">Gross profit</text>
<text x="381.60" y="183.50" font-size="6.6" textLength="20.80" lengthAdjust="spacingAndGlyphs" fill="#000" font-weight="normal" style="font-family:&quot;Liberation Sans&quot;"  stroke="#000" stroke-width="0.07">4035.30</text>
<text x="406.70" y="183.50" font-size="6.6" textLength="25.70" lengthAdjust="spacingAndGlyphs" fill="#000" font-weight="normal" style="font-family:&quot;Liberation Sans&quot;"  stroke="#000" stroke-width="0.07">Gross loss</text>
<text x="570.50" y="183.50" font-size="6.6" textLength="23.60" lengthAdjust="spacingAndGlyphs" fill="#000" font-weight="normal" style="font-family:&quot;Liberation Sans&quot;"  stroke="#000" stroke-width="0.07">-1242.91</text>
<text x="148.00" y="197.80" font-size="6.6" textLength="30.50" lengthAdjust="spacingAndGlyphs" fill="#000" font-weight="normal" style="font-family:&quot;Liberation Sans&quot;"  stroke="#000" stroke-width="0.07">Profit factor</text>
<text x="200.80" y="197.80" font-size="6.6" textLength="10.90" lengthAdjust="spacingAndGlyphs" fill="#000" font-weight="normal" style="font-family:&quot;Liberation Sans&quot;"  stroke="#000" stroke-width="0.07">3.26</text>
<text x="216.00" y="197.80" font-size="6.6" textLength="41.30" lengthAdjust="spacingAndGlyphs" fill="#000" font-weight="normal" style="font-family:&quot;Liberation Sans&quot;"  stroke="#000" stroke-width="0.07">Expected payoff</text>
<text x="391.20" y="197.80" font-size="6.6" textLength="11.20" lengthAdjust="spacingAndGlyphs" fill="#000" font-weight="normal" style="font-family:&quot;Liberation Sans&quot;"  stroke="#000" stroke-width="0.07">8.55</text>
<text x="148.00" y="209.00" font-size="6.6" textLength="22.50" lengthAdjust="spacingAndGlyphs" fill="#000" font-weight="normal" style="font-family:&quot;Liberation Sans&quot;"  stroke="#000" stroke-width="0.07">Absolute</text>
<text x="148.00" y="215.80" font-size="6.6" textLength="26.50" lengthAdjust="spacingAndGlyphs" fill="#000" font-weight="normal" style="font-family:&quot;Liberation Sans&quot;"  stroke="#000" stroke-width="0.07">drawdown</text>
<text x="194.70" y="212.60" font-size="6.6" textLength="17.00" lengthAdjust="spacingAndGlyphs" fill="#000" font-weight="normal" style="font-family:&quot;Liberation Sans&quot;"  stroke="#000" stroke-width="0.07">177.65</text>
<text x="216.00" y="212.60" font-size="6.6" textLength="49.00" lengthAdjust="spacingAndGlyphs" fill="#000" font-weight="normal" style="font-family:&quot;Liberation Sans&quot;"  stroke="#000" stroke-width="0.07">Maximal drawdown</text>
<text x="359.20" y="212.60" font-size="6.6" textLength="43.20" lengthAdjust="spacingAndGlyphs" fill="#000" font-weight="normal" style="font-family:&quot;Liberation Sans&quot;"  stroke="#000" stroke-width="0.07">1035.51 (7.66%)</text>
<text x="406.70" y="212.60" font-size="6.6" textLength="48.30" lengthAdjust="spacingAndGlyphs" fill="#000" font-weight="normal" style="font-family:&quot;Liberation Sans&quot;"  stroke="#000" stroke-width="0.07">Relative drawdown</text>
<text x="550.00" y="212.60" font-size="6.6" textLength="44.10" lengthAdjust="spacingAndGlyphs" fill="#000" font-weight="normal" style="font-family:&quot;Liberation Sans&quot;"  stroke="#000" stroke-width="0.07">7.66% (1035.51)</text>
<text x="148.00" y="231.80" font-size="6.6" textLength="30.20" lengthAdjust="spacingAndGlyphs" fill="#000" font-weight="normal" style="font-family:&quot;Liberation Sans&quot;"  stroke="#000" stroke-width="0.07">Total trades</text>
<text x="202.00" y="231.80" font-size="6.6" textLength="9.70" lengthAdjust="spacingAndGlyphs" fill="#000" font-weight="normal" style="font-family:&quot;Liberation Sans&quot;"  stroke="#000" stroke-width="0.07">329</text>
<text x="216.00" y="231.80" font-size="6.6" textLength="63.10" lengthAdjust="spacingAndGlyphs" fill="#000" font-weight="normal" style="font-family:&quot;Liberation Sans&quot;"  stroke="#000" stroke-width="0.07">Short positions (won %)</text>
<text x="372.60" y="231.80" font-size="6.6" textLength="29.80" lengthAdjust="spacingAndGlyphs" fill="#000" font-weight="normal" style="font-family:&quot;Liberation Sans&quot;"  stroke="#000" stroke-width="0.07">5 (40.00%)</text>
<text x="406.70" y="231.80" font-size="6.6" textLength="61.50" lengthAdjust="spacingAndGlyphs" fill="#000" font-weight="normal" style="font-family:&quot;Liberation Sans&quot;"  stroke="#000" stroke-width="0.07">Long positions (won %)</text>
<text x="558.10" y="231.80" font-size="6.6" textLength="36.00" lengthAdjust="spacingAndGlyphs" fill="#000" font-weight="normal" style="font-family:&quot;Liberation Sans&quot;"  stroke="#000" stroke-width="0.07">324 (76.23%)</text>
<text x="216.00" y="242.80" font-size="6.6" textLength="64.00" lengthAdjust="spacingAndGlyphs" fill="#000" font-weight="normal" style="font-family:&quot;Liberation Sans&quot;"  stroke="#000" stroke-width="0.07">Profit trades (% of total)</text>
<text x="366.90" y="242.80" font-size="6.6" textLength="35.50" lengthAdjust="spacingAndGlyphs" fill="#000" font-weight="normal" style="font-family:&quot;Liberation Sans&quot;"  stroke="#000" stroke-width="0.07">249 (75.68%)</text>
<text x="406.70" y="242.80" font-size="6.6" textLength="61.50" lengthAdjust="spacingAndGlyphs" fill="#000" font-weight="normal" style="font-family:&quot;Liberation Sans&quot;"  stroke="#000" stroke-width="0.07">Loss trades (% of total)</text>
<text x="560.70" y="242.80" font-size="6.6" textLength="33.40" lengthAdjust="spacingAndGlyphs" fill="#000" font-weight="normal" style="font-family:&quot;Liberation Sans&quot;"  stroke="#000" stroke-width="0.07">80 (24.32%)</text>
<text x="192.80" y="253.80" font-size="6.6" textLength="18.90" lengthAdjust="spacingAndGlyphs" fill="#000" font-weight="normal" style="font-family:&quot;Liberation Sans&quot;"  stroke="#000" stroke-width="0.07">Largest</text>
<text x="216.00" y="253.80" font-size="6.6" textLength="28.70" lengthAdjust="spacingAndGlyphs" fill="#000" font-weight="normal" style="font-family:&quot;Liberation Sans&quot;"  stroke="#000" stroke-width="0.07">profit trade</text>
<text x="384.90" y="253.80" font-size="6.6" textLength="17.50" lengthAdjust="spacingAndGlyphs" fill="#000" font-weight="normal" style="font-family:&quot;Liberation Sans&quot;"  stroke="#000" stroke-width="0.07">468.80</text>
<text x="406.70" y="253.80" font-size="6.6" textLength="24.55" lengthAdjust="spacingAndGlyphs" fill="#000" font-weight="normal" style="font-family:&quot;Liberation Sans&quot;"  stroke="#000" stroke-width="0.07">loss trade</text>
<text x="573.20" y="253.80" font-size="6.6" textLength="20.90" lengthAdjust="spacingAndGlyphs" fill="#000" font-weight="normal" style="font-family:&quot;Liberation Sans&quot;"  stroke="#000" stroke-width="0.07">-260.47</text>
<text x="191.30" y="264.80" font-size="6.6" textLength="20.40" lengthAdjust="spacingAndGlyphs" fill="#000" font-weight="normal" style="font-family:&quot;Liberation Sans&quot;"  stroke="#000" stroke-width="0.07">Average</text>
<text x="216.00" y="264.80" font-size="6.6" textLength="28.70" lengthAdjust="spacingAndGlyphs" fill="#000" font-weight="normal" style="font-family:&quot;Liberation Sans&quot;"  stroke="#000" stroke-width="0.07">profit trade</text>
<text x="388.30" y="264.80" font-size="6.6" textLength="14.10" lengthAdjust="spacingAndGlyphs" fill="#000" font-weight="normal" style="font-family:&quot;Liberation Sans&quot;"  stroke="#000" stroke-width="0.07">16.29</text>
<text x="406.70" y="264.80" font-size="6.6" textLength="24.55" lengthAdjust="spacingAndGlyphs" fill="#000" font-weight="normal" style="font-family:&quot;Liberation Sans&quot;"  stroke="#000" stroke-width="0.07">loss trade</text>
<text x="576.40" y="264.80" font-size="6.6" textLength="17.70" lengthAdjust="spacingAndGlyphs" fill="#000" font-weight="normal" style="font-family:&quot;Liberation Sans&quot;"  stroke="#000" stroke-width="0.07">-15.54</text>
<text x="187.30" y="275.80" font-size="6.6" textLength="24.40" lengthAdjust="spacingAndGlyphs" fill="#000" font-weight="normal" style="font-family:&quot;Liberation Sans&quot;"  stroke="#000" stroke-width="0.07">Maximum</text>
<text x="216.00" y="275.80" font-size="6.6" textLength="88.40" lengthAdjust="spacingAndGlyphs" fill="#000" font-weight="normal" style="font-family:&quot;Liberation Sans&quot;"  stroke="#000" stroke-width="0.07">consecutive wins (profit in money)</text>
<text x="372.60" y="275.80" font-size="6.6" textLength="29.80" lengthAdjust="spacingAndGlyphs" fill="#000" font-weight="normal" style="font-family:&quot;Liberation Sans&quot;"  stroke="#000" stroke-width="0.07">16 (452.58)</text>
<text x="406.70" y="275.80" font-size="6.6" textLength="88.90" lengthAdjust="spacingAndGlyphs" fill="#000" font-weight="normal" style="font-family:&quot;Liberation Sans&quot;"  stroke="#000" stroke-width="0.07">consecutive losses (loss in money)</text>
<text x="563.70" y="275.80" font-size="6.6" textLength="30.40" lengthAdjust="spacingAndGlyphs" fill="#000" font-weight="normal" style="font-family:&quot;Liberation Sans&quot;"  stroke="#000" stroke-width="0.07">6 (-703.49)</text>
<text x="191.00" y="286.80" font-size="6.6" textLength="20.70" lengthAdjust="spacingAndGlyphs" fill="#000" font-weight="normal" style="font-family:&quot;Liberation Sans&quot;"  stroke="#000" stroke-width="0.07">Maximal</text>
<text x="216.00" y="286.80" font-size="6.6" textLength="86.00" lengthAdjust="spacingAndGlyphs" fill="#000" font-weight="normal" style="font-family:&quot;Liberation Sans&quot;"  stroke="#000" stroke-width="0.07">consecutive profit (count of wins)</text>
<text x="369.40" y="286.80" font-size="6.6" textLength="33.00" lengthAdjust="spacingAndGlyphs" fill="#000" font-weight="normal" style="font-family:&quot;Liberation Sans&quot;"  stroke="#000" stroke-width="0.07">1234.68 (11)</text>
<text x="406.70" y="286.80" font-size="6.6" textLength="86.50" lengthAdjust="spacingAndGlyphs" fill="#000" font-weight="normal" style="font-family:&quot;Liberation Sans&quot;"  stroke="#000" stroke-width="0.07">consecutive loss (count of losses)</text>
<text x="564.10" y="286.80" font-size="6.6" textLength="30.00" lengthAdjust="spacingAndGlyphs" fill="#000" font-weight="normal" style="font-family:&quot;Liberation Sans&quot;"  stroke="#000" stroke-width="0.07">-703.49 (6)</text>
<text x="191.30" y="297.80" font-size="6.6" textLength="20.40" lengthAdjust="spacingAndGlyphs" fill="#000" font-weight="normal" style="font-family:&quot;Liberation Sans&quot;"  stroke="#000" stroke-width="0.07">Average</text>
<text x="216.00" y="297.80" font-size="6.6" textLength="42.90" lengthAdjust="spacingAndGlyphs" fill="#000" font-weight="normal" style="font-family:&quot;Liberation Sans&quot;"  stroke="#000" stroke-width="0.07">consecutive wins</text>
<text x="399.70" y="297.80" font-size="6.6" textLength="2.70" lengthAdjust="spacingAndGlyphs" fill="#000" font-weight="normal" style="font-family:&quot;Liberation Sans&quot;"  stroke="#000" stroke-width="0.07">5</text>
<text x="406.70" y="297.80" font-size="6.6" textLength="47.30" lengthAdjust="spacingAndGlyphs" fill="#000" font-weight="normal" style="font-family:&quot;Liberation Sans&quot;"  stroke="#000" stroke-width="0.07">consecutive losses</text>
<text x="590.30" y="297.80" font-size="6.6" textLength="3.80" lengthAdjust="spacingAndGlyphs" fill="#000" font-weight="normal" style="font-family:&quot;Liberation Sans&quot;"  stroke="#000" stroke-width="0.07">2</text>
<rect x="742" y="0" width="8" height="422" fill="#f8f8f8"/>
<path d="M743.3,6.8 L745.7,3.0 L748.1,6.8 Z" fill="#6a6a6a"/>
<rect x="743.1" y="9.5" width="5.1" height="22.3" rx="2.55" fill="#8a8a8a"/>
<path d="M743.4,416.4 L748.2,416.4 L745.8,420 Z" fill="#6a6a6a"/>
<circle cx="720.0" cy="392.8" r="9.0" fill="none" stroke="#3c3c3c" stroke-width="4"/>
<rect x="715.2" y="391.2" width="9.6" height="3.2" fill="#3c3c3c"/>
<rect x="718.4" y="388.0" width="3.2" height="9.6" fill="#3c3c3c"/>
<line x1="728.0" y1="400.8" x2="735.2" y2="408.0" stroke="#3c3c3c" stroke-width="4.6" stroke-linecap="round"/>
</svg>
</body></html>
